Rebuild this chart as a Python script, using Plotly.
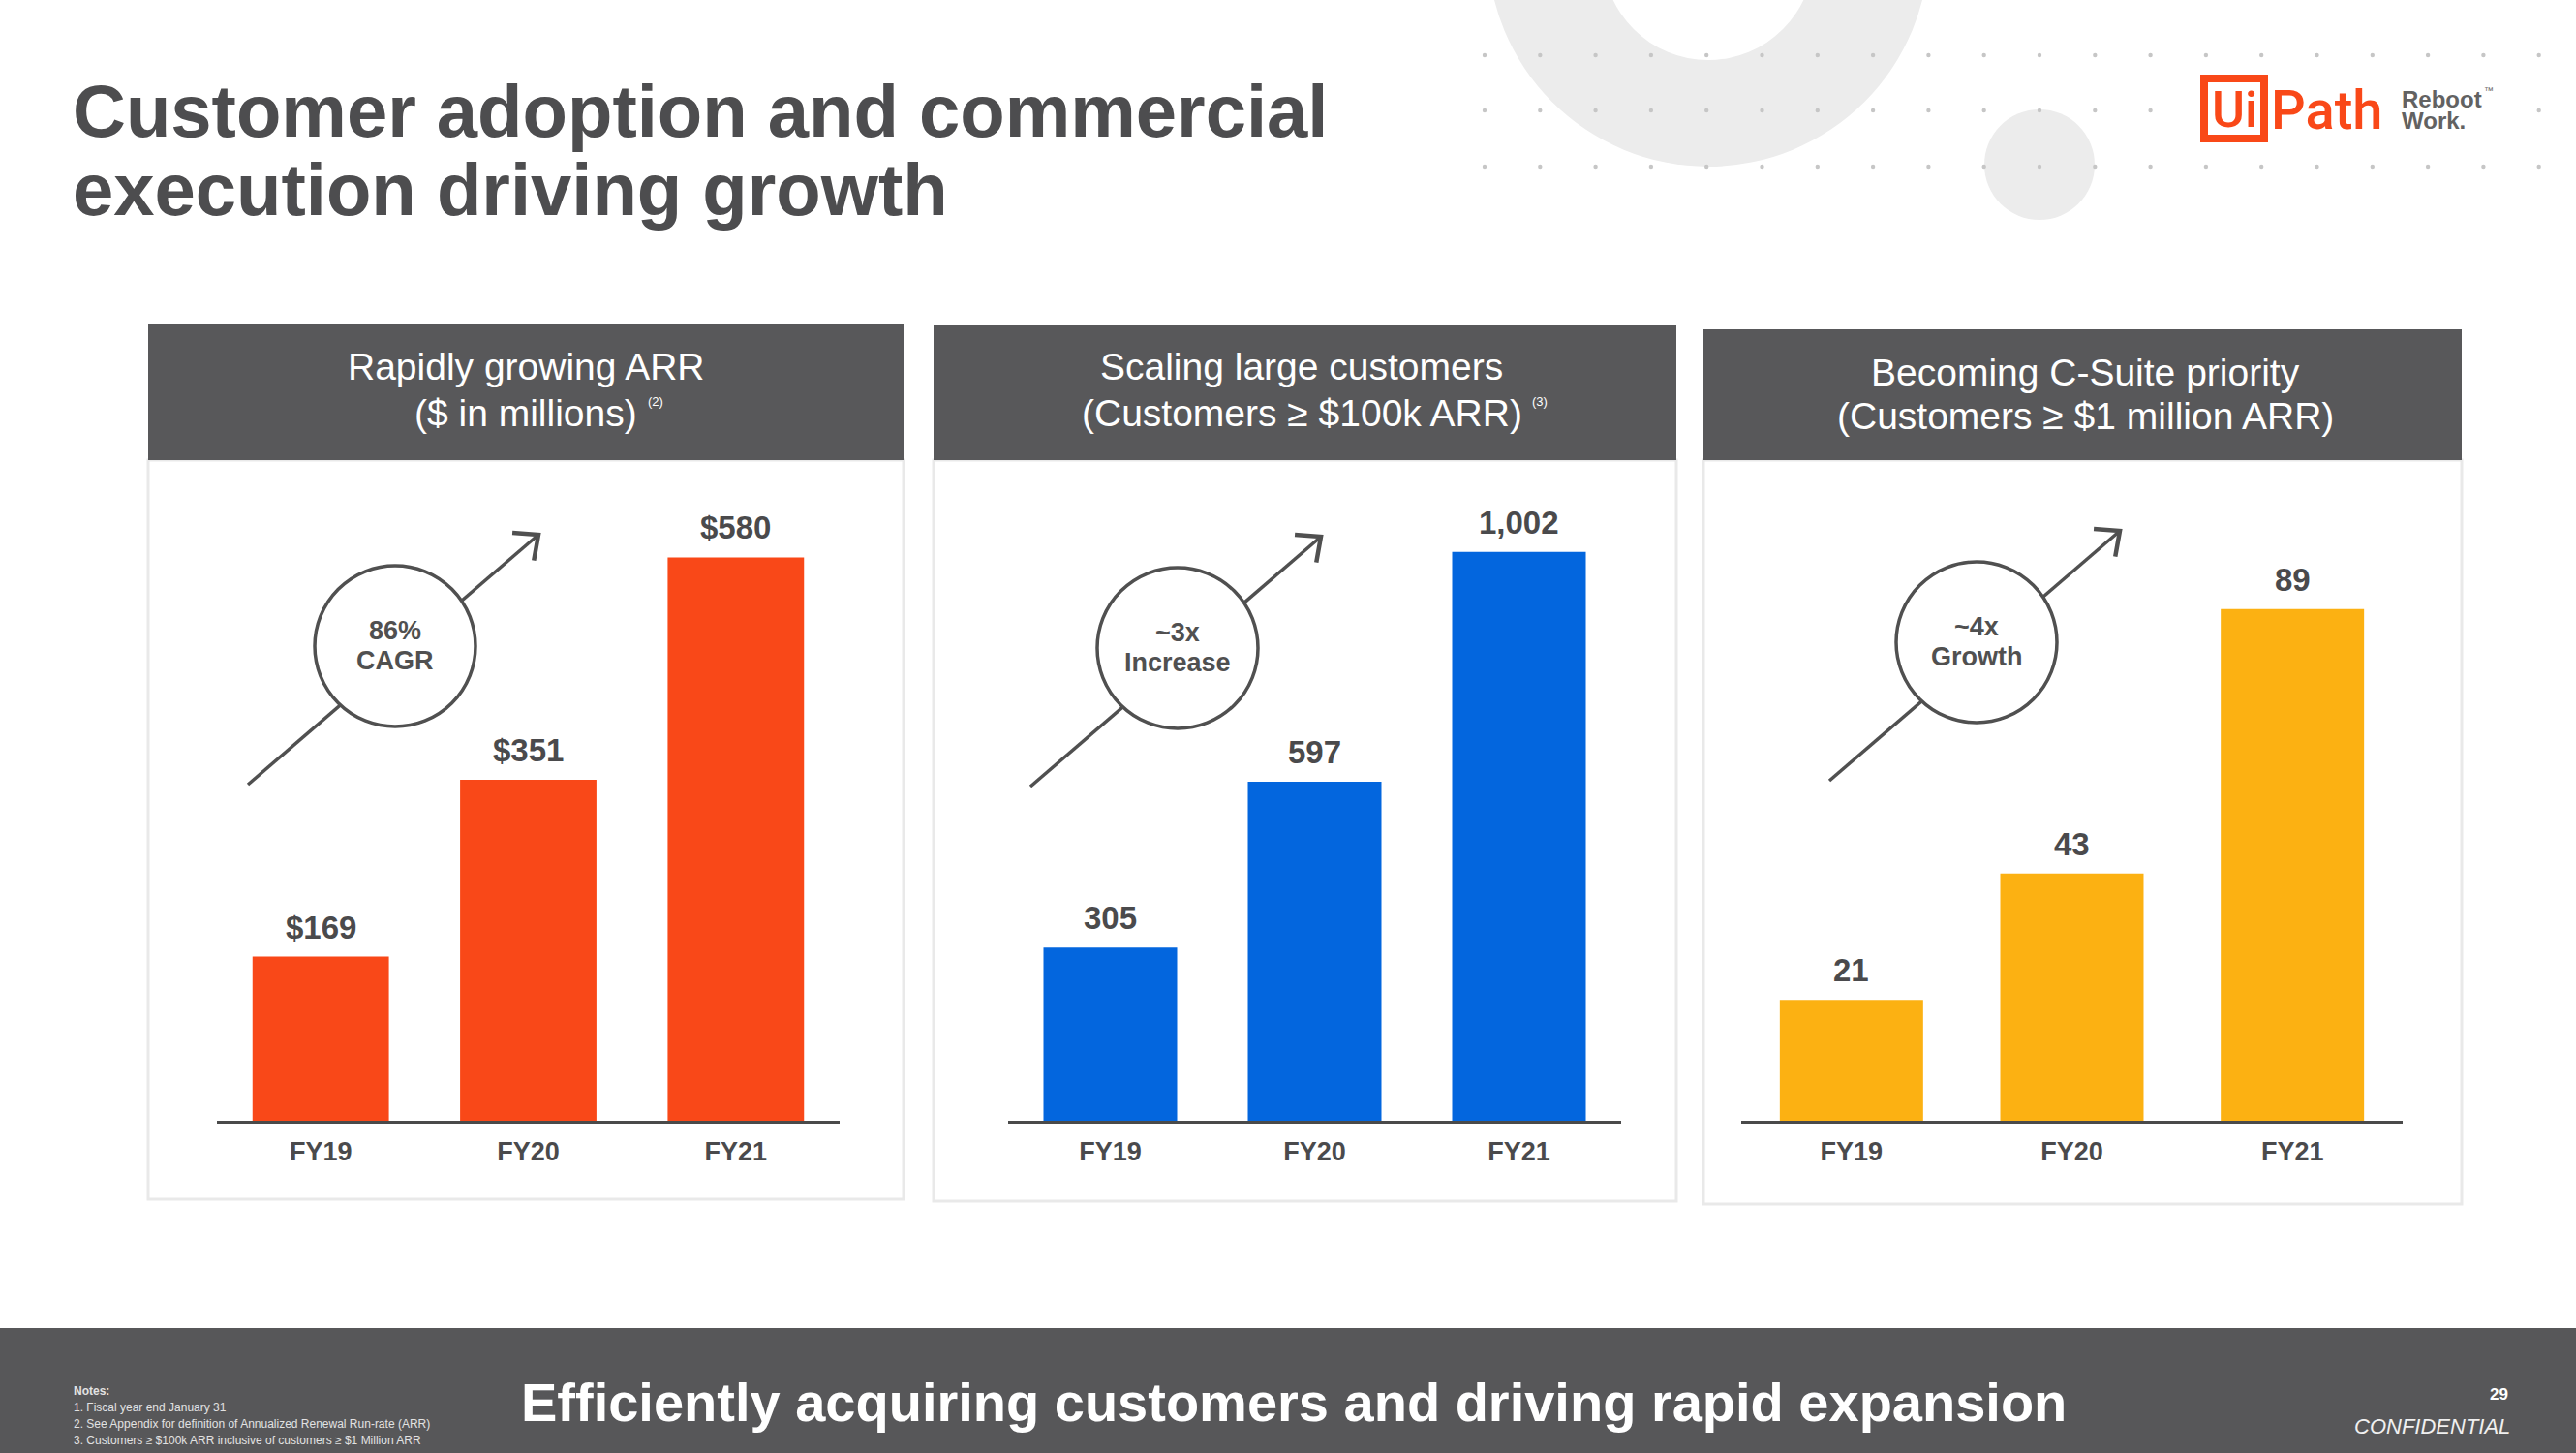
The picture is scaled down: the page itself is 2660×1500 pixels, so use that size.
import math
import plotly.graph_objects as go

W, H = 2660, 1500

# ---------------- data ----------------
categories = ["FY19", "FY20", "FY21"]
arr_millions = [169, 351, 580]
customers_100k = [305, 597, 1002]
customers_1m = [21, 43, 89]

arr_labels = [f"${v}" for v in arr_millions]
c100_labels = [f"{v:,}" for v in customers_100k]
c1m_labels = [f"{v}" for v in customers_1m]

header_line1 = ["Rapidly growing ARR", "Scaling large customers", "Becoming C-Suite priority"]
header_line2 = ["($ in millions)", "(Customers ≥ $100k ARR)", "(Customers ≥ $1 million ARR)"]
header_note = ["(2)", "(3)", ""]
badge_top = ["86%", "~3x", "~4x"]
badge_bottom = ["CAGR", "Increase", "Growth"]

title_lines = ["Customer adoption and commercial", "execution driving growth"]
footer_text = "Efficiently acquiring customers and driving rapid expansion"
notes = ["Notes:",
         "1. Fiscal year end January 31",
         "2. See Appendix for definition of Annualized Renewal Run-rate (ARR)",
         "3. Customers ≥ $100k ARR inclusive of customers ≥ $1 Million ARR"]


def X(p):
    return p / W


def Y(p):
    return 1 - p / H


FONT = "Liberation Sans"
DARK = "#4a4a4c"
HEADER_BG = "#58585a"
LINE_GREY = "#505050"

panels = [
    dict(values=arr_millions, labels=arr_labels, color="#F94818", xdom=(224, 867), yrange=655.3, width=0.657,
         head=(153, 933, 334, 475), card_bottom=1238, hx=543, hy=(379, 426), note_xy=(677, 414),
         circle=(408, 667)),
    dict(values=customers_100k, labels=c100_labels, color="#0366DE", xdom=(1041, 1674), yrange=1121, width=0.654,
         head=(964, 1731, 336, 475), card_bottom=1240, hx=1344, hy=(379, 426), note_xy=(1590, 415),
         circle=(1216, 669)),
    dict(values=customers_1m, labels=c1m_labels, color="#FCB112", xdom=(1798, 2481), yrange=110.7, width=0.65,
         head=(1759, 2542, 340, 475), card_bottom=1243, hx=2153, hy=(384, 430), note_xy=None,
         circle=(2041, 663)),
]

fig = go.Figure()
shapes = []
annotations = []


def circle_shape(cx, cy, r, fill, line=None, layer="above"):
    return dict(type="circle", xref="paper", yref="paper", x0=X(cx - r), x1=X(cx + r),
                y0=Y(cy + r), y1=Y(cy - r), fillcolor=fill,
                line=line if line else dict(width=0), layer=layer)


# ---------------- background decoration ----------------
shapes.append(circle_shape(1764, -56, 228, "#ececec", layer="below"))
shapes.append(circle_shape(1764, -47, 109, "#ffffff", layer="below"))
shapes.append(circle_shape(2106, 170, 57, "#ececec", layer="below"))
for row_y in (57, 114, 172):
    for k in range(20):
        dx = 1533 + 57.3 * k
        if row_y == 114 and 2255 < dx < 2600:
            continue
        shapes.append(circle_shape(dx, row_y, 2.2, "#c6c6c6", layer="below"))

# ---------------- panels ----------------
ydom = [Y(1157), Y(500)]
for i, p in enumerate(panels):
    n = "" if i == 0 else str(i + 1)
    xa, ya = "x" + n, "y" + n
    fig.add_trace(go.Bar(x=categories, y=p["values"], xaxis=xa, yaxis=ya, width=p["width"],
                         marker=dict(color=p["color"], line=dict(width=0)), hoverinfo="skip",
                         showlegend=False))
    fig.update_layout(**{
        ("xaxis" + n): dict(domain=[X(p["xdom"][0]), X(p["xdom"][1])], anchor=ya, range=[-0.5, 2.5],
                            showline=True, linecolor="#4a4a4a", linewidth=2.5, ticks="", showgrid=False,
                            zeroline=False, ticklabelstandoff=6, fixedrange=True,
                            tickfont=dict(family=FONT, size=27, color=DARK, weight="bold")),
        ("yaxis" + n): dict(domain=ydom, anchor=xa, range=[0, p["yrange"]], visible=False, fixedrange=True),
    })
    for c, v, lab in zip(categories, p["values"], p["labels"]):
        annotations.append(dict(x=c, y=v, xref=xa, yref=ya, text=lab, showarrow=False, yanchor="bottom",
                                yshift=10, font=dict(family=FONT, size=33, color=DARK, weight="bold")))

    x0, x1, y0, y1 = p["head"]
    # card
    shapes.append(dict(type="rect", xref="paper", yref="paper", x0=X(x0), x1=X(x1), y0=Y(p["card_bottom"]),
                       y1=Y(y1), fillcolor="#ffffff", line=dict(color="#e9e9e9", width=3), layer="below"))
    # header
    shapes.append(dict(type="rect", xref="paper", yref="paper", x0=X(x0), x1=X(x1), y0=Y(y1), y1=Y(y0),
                       fillcolor=HEADER_BG, line=dict(width=0), layer="below"))
    annotations.append(dict(x=X(p["hx"]), y=Y(p["hy"][0]), xref="paper", yref="paper", text=header_line1[i],
                            showarrow=False, xanchor="center", yanchor="middle",
                            font=dict(family=FONT, size=39, color="#ffffff")))
    annotations.append(dict(x=X(p["hx"]), y=Y(p["hy"][1]), xref="paper", yref="paper", text=header_line2[i],
                            showarrow=False, xanchor="center", yanchor="middle",
                            font=dict(family=FONT, size=39, color="#ffffff")))
    if header_note[i]:
        annotations.append(dict(x=X(p["note_xy"][0]), y=Y(p["note_xy"][1]), xref="paper", yref="paper",
                                text=header_note[i], showarrow=False, xanchor="center", yanchor="middle",
                                font=dict(family=FONT, size=13, color="#ffffff")))

    # growth badge with arrow
    cx, cy = p["circle"]
    r = 83
    tail = (cx - 152, cy + 143)
    tip = (cx + 148, cy - 115)
    L = math.hypot(148, 115)
    ux, uy = 148 / L, -115 / L
    shapes.append(dict(type="line", xref="paper", yref="paper", x0=X(tail[0]), y0=Y(tail[1]), x1=X(tip[0]),
                       y1=Y(tip[1]), line=dict(color=LINE_GREY, width=3.5)))
    shapes.append(circle_shape(cx, cy, r, "#ffffff", line=dict(color=LINE_GREY, width=3.5)))
    # open chevron arrow head
    arm = 27
    pts = []
    for ang in (math.radians(42), math.radians(-42)):
        bx, by = -ux, -uy
        rx = bx * math.cos(ang) - by * math.sin(ang)
        ry = bx * math.sin(ang) + by * math.cos(ang)
        pts.append((tip[0] + arm * rx, tip[1] + arm * ry))
    path = (f"M {X(pts[0][0])},{Y(pts[0][1])} L {X(tip[0])},{Y(tip[1])} "
            f"L {X(pts[1][0])},{Y(pts[1][1])}")
    shapes.append(dict(type="path", xref="paper", yref="paper", path=path,
                       line=dict(color=LINE_GREY, width=4.5)))
    annotations.append(dict(x=X(cx), y=Y(cy - 16), xref="paper", yref="paper", text=badge_top[i],
                            showarrow=False, xanchor="center", yanchor="middle",
                            font=dict(family=FONT, size=27, color=LINE_GREY, weight="bold")))
    annotations.append(dict(x=X(cx), y=Y(cy + 15), xref="paper", yref="paper", text=badge_bottom[i],
                            showarrow=False, xanchor="center", yanchor="middle",
                            font=dict(family=FONT, size=27, color=LINE_GREY, weight="bold")))

# ---------------- title ----------------
for txt, yy in zip(title_lines, (115, 195)):
    annotations.append(dict(x=X(73), y=Y(yy), xref="paper", yref="paper", text=txt, showarrow=False,
                            xanchor="left", yanchor="middle",
                            font=dict(family=FONT, size=76, color="#4d4d4f", weight="bold")))

# ---------------- logo ----------------
ORANGE = "#F94818"
shapes.append(dict(type="rect", xref="paper", yref="paper", x0=X(2276), x1=X(2338), y0=Y(143), y1=Y(81),
                   fillcolor="rgba(0,0,0,0)", line=dict(color=ORANGE, width=8)))
annotations.append(dict(x=X(2307), y=Y(114), xref="paper", yref="paper", text="Ui", showarrow=False,
                        xanchor="center", yanchor="middle",
                        font=dict(family="Roboto", size=52, color=ORANGE, weight=500)))
annotations.append(dict(x=X(2343), y=Y(114), xref="paper", yref="paper", text="Path", showarrow=False,
                        xanchor="left", yanchor="middle",
                        font=dict(family="Roboto", size=56, color=ORANGE, weight=500)))
annotations.append(dict(x=X(2478), y=Y(102), xref="paper", yref="paper", text="Reboot",
                        showarrow=False, xanchor="left", yanchor="middle",
                        font=dict(family=FONT, size=24, color="#626262", weight="bold")))
annotations.append(dict(x=X(2563), y=Y(94), xref="paper", yref="paper", text="™",
                        showarrow=False, xanchor="left", yanchor="middle",
                        font=dict(family=FONT, size=10, color="#626262")))
annotations.append(dict(x=X(2478), y=Y(124), xref="paper", yref="paper", text="Work.",
                        showarrow=False, xanchor="left", yanchor="middle",
                        font=dict(family=FONT, size=24, color="#626262", weight="bold")))

# ---------------- footer ----------------
shapes.append(dict(type="rect", xref="paper", yref="paper", x0=0, x1=1, y0=0, y1=Y(1371),
                   fillcolor="#575759", line=dict(width=0), layer="below"))
annotations.append(dict(x=X(1336), y=Y(1447), xref="paper", yref="paper", text=footer_text, showarrow=False,
                        xanchor="center", yanchor="middle",
                        font=dict(family=FONT, size=56, color="#ffffff", weight="bold")))
for j, (txt, yy) in enumerate(zip(notes, (1436, 1453, 1470, 1487))):
    annotations.append(dict(x=X(74), y=Y(yy), xref="paper", yref="paper", text=txt, showarrow=False,
                            xanchor="left", yanchor="middle",
                            font=dict(family=FONT, size=12, color="#e2e2e2",
                                      weight="bold" if j == 0 else "normal")))
annotations.append(dict(x=X(2592), y=Y(1439), xref="paper", yref="paper", text="29", showarrow=False,
                        xanchor="right", yanchor="middle",
                        font=dict(family=FONT, size=17, color="#ffffff", weight="bold")))
annotations.append(dict(x=X(2594), y=Y(1472), xref="paper", yref="paper", text="CONFIDENTIAL",
                        showarrow=False, xanchor="right", yanchor="middle",
                        font=dict(family=FONT, size=22, color="#f0f0f0", style="italic")))

fig.update_layout(width=W, height=H, margin=dict(l=0, r=0, t=0, b=0), paper_bgcolor="#ffffff",
                  plot_bgcolor="rgba(0,0,0,0)", shapes=shapes, annotations=annotations, bargap=0.3,
                  showlegend=False)

fig.write_html("out.html", config={"displayModeBar": False},
               post_script="document.body.style.margin='0px';document.body.style.overflow='hidden';")
